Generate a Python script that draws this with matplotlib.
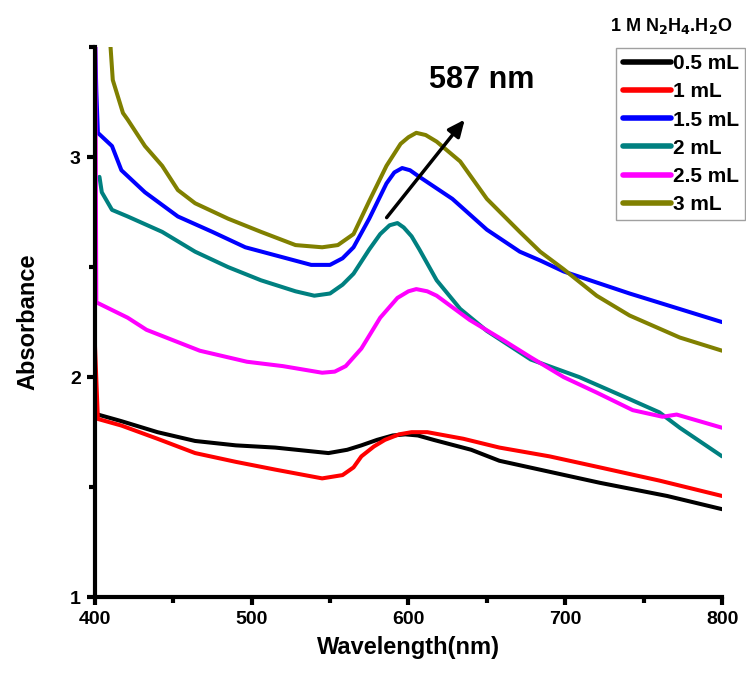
import numpy as np
import matplotlib
matplotlib.use('Agg')
import matplotlib.pyplot as plt
from matplotlib.ticker import MultipleLocator

plt.rcParams['font.family'] = ['Liberation Sans', 'DejaVu Sans']
plt.rcParams['font.weight'] = 'bold'


# values (wavelength nm, absorbance)
wl_05 = [400, 402, 417, 440, 464, 490, 515, 549, 561, 570, 580, 590, 598, 606, 616, 640, 658, 690, 722, 765, 800]
ab_05 = [1.84, 1.83, 1.80, 1.75, 1.71, 1.69, 1.68, 1.655, 1.67, 1.69, 1.715, 1.735, 1.74, 1.735, 1.715, 1.67, 1.62, 1.57, 1.52, 1.46, 1.40]

wl_1 = [400, 402, 417, 440, 464, 490, 515, 545, 558, 565, 570, 578, 585, 594, 602, 612, 635, 658, 690, 722, 760, 800]
ab_1 = [2.17, 1.81, 1.78, 1.72, 1.655, 1.615, 1.58, 1.54, 1.555, 1.59, 1.64, 1.685, 1.715, 1.74, 1.75, 1.75, 1.72, 1.68, 1.64, 1.59, 1.53, 1.46]

wl_15 = [400, 401, 402, 411, 417, 432, 453, 475, 496, 517, 538, 550, 558, 565, 575, 586, 591, 596, 601, 607, 628, 650, 671, 684, 699, 741, 800]
ab_15 = [3.6, 3.3, 3.11, 3.05, 2.94, 2.84, 2.73, 2.66, 2.59, 2.55, 2.51, 2.51, 2.54, 2.59, 2.72, 2.88, 2.93, 2.95, 2.94, 2.91, 2.81, 2.67, 2.57, 2.53, 2.48, 2.38, 2.25]

wl_2 = [403, 404.5, 411, 421, 443, 464, 485, 506, 528, 540, 550, 558, 565, 575, 582, 588, 593, 597, 602, 607, 618, 633, 650, 678, 709, 741, 760, 773, 800]
ab_2 = [2.91, 2.84, 2.76, 2.73, 2.66, 2.57, 2.50, 2.44, 2.39, 2.37, 2.38, 2.42, 2.47, 2.58, 2.65, 2.69, 2.70, 2.68, 2.64, 2.58, 2.44, 2.31, 2.21, 2.08, 2.00, 1.90, 1.84, 1.77, 1.64]

wl_25 = [400.3, 401, 421, 433, 467, 497, 520, 545, 553, 560, 570, 582, 593, 600, 605, 612, 618, 639, 660, 678, 699, 720, 743, 762, 771, 800]
ab_25 = [3.6, 2.34, 2.27, 2.215, 2.12, 2.07, 2.05, 2.02, 2.025, 2.05, 2.13, 2.27, 2.36, 2.39, 2.40, 2.39, 2.37, 2.26, 2.17, 2.09, 2.00, 1.93, 1.85, 1.82, 1.83, 1.77]

wl_3 = [409.6, 411.5, 418, 421, 432, 443, 453, 464, 485, 506, 528, 545, 555, 565, 575, 586, 595, 600, 605, 611, 618, 633, 650, 671, 684, 699, 720, 741, 773, 800]
ab_3 = [3.55, 3.35, 3.20, 3.17, 3.05, 2.96, 2.85, 2.79, 2.72, 2.66, 2.60, 2.59, 2.60, 2.65, 2.80, 2.96, 3.06, 3.09, 3.11, 3.10, 3.07, 2.98, 2.81, 2.66, 2.57, 2.49, 2.37, 2.28, 2.18, 2.12]

labels = ['0.5 mL', '1 mL', '1.5 mL', '2 mL', '2.5 mL', '3 mL']
colors = ['#000000', '#ff0000', '#0000ff', '#008080', '#ff00ff', '#808000']


fig = plt.figure(figsize=(7.46, 6.81), dpi=100)
ax = fig.add_axes([0.127, 0.123, 0.841, 0.808])

series = [(wl_05, ab_05), (wl_1, ab_1), (wl_15, ab_15), (wl_2, ab_2), (wl_25, ab_25), (wl_3, ab_3)]
for (x, y), lab, c in zip(series, labels, colors):
    ax.plot(x, y, color=c, lw=2.9, label=lab, solid_capstyle='round', solid_joinstyle='round')

ax.set_xlim(400, 800)
ax.set_ylim(1, 3.5)
ax.xaxis.set_major_locator(MultipleLocator(100))
ax.xaxis.set_minor_locator(MultipleLocator(50))
ax.yaxis.set_major_locator(MultipleLocator(1))
ax.yaxis.set_minor_locator(MultipleLocator(0.5))

for s in ['top', 'right']:
    ax.spines[s].set_visible(False)
for s in ['left', 'bottom']:
    ax.spines[s].set_linewidth(3)

ax.tick_params(which='major', direction='out', length=6, width=3, labelsize=14, pad=4)
ax.tick_params(which='minor', direction='out', length=4, width=3)
for t in ax.get_xticklabels() + ax.get_yticklabels():
    t.set_fontweight('bold')

ax.set_xlabel('Wavelength(nm)', fontsize=17, fontweight='bold', labelpad=6)
ax.set_ylabel('Absorbance', fontsize=17, fontweight='bold', labelpad=22)

# arrow and peak label
ax.annotate('', xy=(637, 3.18), xytext=(585, 2.715),
            arrowprops=dict(arrowstyle='-|>,head_length=1.0,head_width=0.45', color='black', lw=2.5))
ax.text(647, 3.35, '587 nm', fontsize=22, fontweight='bold', ha='center', va='center')

leg = ax.legend(loc='upper right', bbox_to_anchor=(0.9987, 0.9295), bbox_transform=fig.transFigure,
                fontsize=15, frameon=True, fancybox=False, borderaxespad=0, handlelength=2.3,
                handletextpad=0.1, labelspacing=0.44, borderpad=0.3)
leg.get_frame().set_edgecolor('#888888')
leg.get_frame().set_linewidth(1)
for t in leg.get_texts():
    t.set_fontweight('bold')
for l in leg.get_lines():
    l.set_linewidth(4)

fig.text(0.9, 0.962, r'1 M N$_\mathbf{2}$H$_\mathbf{4}$.H$_\mathbf{2}$O', fontsize=13, fontweight='bold',
         ha='center', va='center')

fig.savefig('out.png', dpi=100)
